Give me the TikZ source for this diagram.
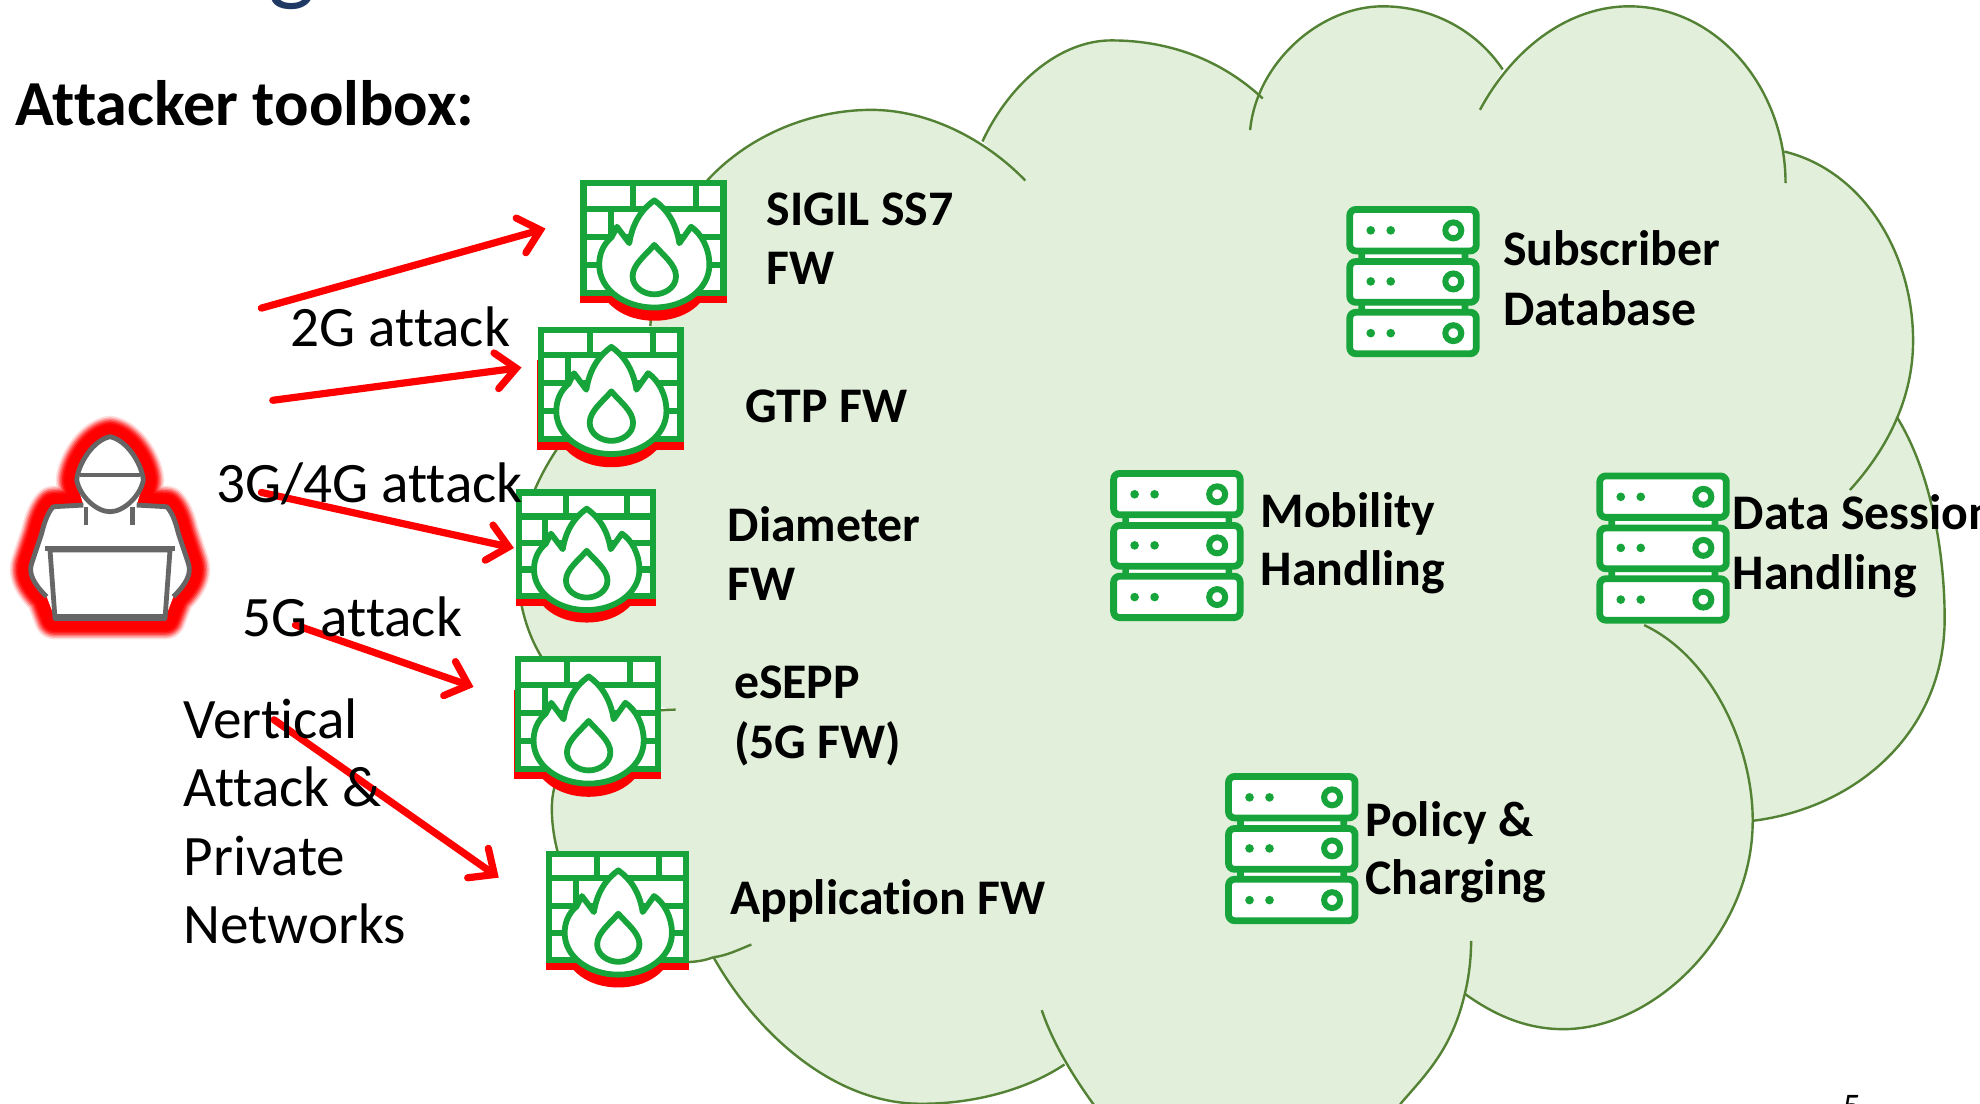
\documentclass[tikz,border=0pt]{standalone}
\usepackage{fontspec}
\setmainfont[Ligatures=CommonOff]{Carlito}
\usetikzlibrary{arrows.meta}
\definecolor{cloudfill}{HTML}{E2EFDA}
\definecolor{cloudedge}{HTML}{548235}
\definecolor{icongreen}{HTML}{17A53B}
\definecolor{hackergray}{HTML}{666666}
\definecolor{titlenavy}{HTML}{1F3864}
\tikzset{
  cloudline/.style={draw=cloudedge,line width=1.2pt},
  attackarrow/.style={draw=red,line width=3.6pt,line cap=round,-{Straight Barb[length=10pt,width=18pt,line cap=round]}},
  boldlabel/.style={font=\fontsize{24.9}{30}\selectfont\bfseries,anchor=base west,inner sep=0pt,align=left,text=black},
  plainlabel/.style={font=\fontsize{28.6}{34}\selectfont,anchor=base west,inner sep=0pt,align=left,text=black},
  wall/.style={draw=icongreen,line width=3.1pt,line join=miter},
  flame/.style={draw=icongreen,line width=2.9pt,line join=round,fill=white},
  rack/.style={draw=icongreen,line width=3.4pt,rounded corners=3pt,fill=white},
  hacker/.style={draw=hackergray,line width=2.4pt,line join=round},
}
% cloud lobes
\newcommand\lobeA{(515,258) .. controls (518,215) and (535,175) .. (560,143) .. controls (595,105) and (645,87) .. (690,87) .. controls (735,87) and (780,110) .. (812,143)}
\newcommand\lobeB{(778,112) .. controls (800,65) and (840,32) .. (880,32) .. controls (930,32) and (970,50) .. (1000,78)}
\newcommand\lobeC{(990,103) .. controls (995,50) and (1045,5) .. (1095,5) .. controls (1135,5) and (1170,25) .. (1190,55)}
\newcommand\lobeD{(1172,87) .. controls (1200,35) and (1245,5) .. (1290,5) .. controls (1360,5) and (1414,70) .. (1414,145)}
\newcommand\lobeE{(1413,120) .. controls (1475,135) and (1515,200) .. (1515,270) .. controls (1515,315) and (1495,355) .. (1465,388)}
\newcommand\lobeF{(1502,330) .. controls (1530,375) and (1540,440) .. (1540,490) .. controls (1540,580) and (1470,640) .. (1388,650)}
\newcommand\lobeG{(1302,495) .. controls (1355,520) and (1388,590) .. (1388,650) .. controls (1388,740) and (1310,815) .. (1238,815) .. controls (1210,815) and (1185,805) .. (1160,787)}
\newcommand\lobeH{(1165,745) .. controls (1165,760) and (1163,775) .. (1160,787) .. controls (1150,830) and (1130,850) .. (1110,873) .. controls (1060,950) and (900,950) .. (870,880) .. controls (855,860) and (835,830) .. (825,800)}
\newcommand\lobeI{(843,843) .. controls (810,865) and (765,875) .. (725,874) .. controls (660,872) and (600,820) .. (565,758)}
\newcommand\lobeJ{(565,758) .. controls (555,762) and (545,762) .. (535,762) .. controls (480,762) and (437,700) .. (437,640) .. controls (437,595) and (480,562) .. (535,562)}
\newcommand\lobeK{(450,545) .. controls (420,520) and (410,480) .. (410,450) .. controls (410,420) and (420,385) .. (445,350) -- (480,300)}
\edef\fullcloud{\unexpanded\expandafter{\lobeA} -- \unexpanded\expandafter{\lobeB} -- \unexpanded\expandafter{\lobeC} -- \unexpanded\expandafter{\lobeD} -- \unexpanded\expandafter{\lobeE} -- \unexpanded\expandafter{\lobeF} -- \unexpanded\expandafter{\lobeG} -- \unexpanded\expandafter{\lobeH} -- \unexpanded\expandafter{\lobeI} -- \unexpanded\expandafter{\lobeJ} -- \unexpanded\expandafter{\lobeK}}
% firewall icon: left, top, width, height
\newcommand\firewallicon[4]{%
\begin{scope}[shift={(#1,#2)},xscale=#3/435*1.0,yscale=#4/425]
  \fill[red] (-3,100) rectangle (437,372);
  \fill[red] (50,300) .. controls (60,375) and (130,425) .. (220,425) .. controls (310,425) and (380,375) .. (390,300) -- cycle;
  \draw[wall,fill=white] (8,8) rectangle (427,340);
  \draw[wall] (8,85) -- (427,85) (8,170) -- (427,170) (8,255) -- (427,255);
  \draw[wall] (155,8) -- (155,85) (345,8) -- (345,85) (90,85) -- (90,170);
  \draw[flame] (220,60) .. controls (185,85) and (155,125) .. (145,190) -- (108,140) -- (92,172)
    .. controls (65,195) and (55,225) .. (55,255) .. controls (55,330) and (130,385) .. (220,385)
    .. controls (310,385) and (385,330) .. (385,255) .. controls (385,205) and (360,160) .. (330,140)
    -- (295,190) .. controls (285,125) and (255,85) .. (220,60) -- cycle;
  \draw[flame] (220,195) .. controls (195,225) and (155,255) .. (155,290) .. controls (155,325) and (190,345) .. (220,345)
    .. controls (250,345) and (285,325) .. (285,290) .. controls (285,255) and (245,225) .. (220,195) -- cycle;
\end{scope}}
% server rack icon: left, top
\newcommand\servericon[2]{%
\begin{scope}[shift={(#1,#2)},xscale=106/402,yscale=120/457]
  \fill[white] (40,140) rectangle (362,320);
  \fill[icongreen] (37,135) rectangle (57,170) (347,135) rectangle (367,170)
                   (37,295) rectangle (57,320) (347,295) rectangle (367,320);
  \foreach \rowtop/\rowbot/\rowmid in {0/147/74,157/302/228,310/457/384}{
    \draw[rack] (11,\rowtop+11) rectangle (391,\rowbot-11);
    \fill[icongreen] (74,\rowmid) circle[radius=13] (134,\rowmid) circle[radius=13];
    \draw[icongreen,line width=3pt] (322,\rowmid) circle[radius=24];
  }
\end{scope}}
\newcommand\hackerglow{(330,110) .. controls (280,120) and (235,190) .. (230,240) .. controls (235,270) and (245,295) .. (250,315) -- (160,320) .. controls (140,340) and (130,380) .. (125,400) -- (95,490) .. controls (85,520) and (100,550) .. (140,590) -- (165,655) -- (495,655) -- (520,590) .. controls (560,550) and (575,520) .. (565,490) -- (535,400) .. controls (530,380) and (520,340) .. (500,320) -- (410,315) .. controls (415,295) and (425,270) .. (430,240) .. controls (425,190) and (380,120) .. (330,110) -- cycle}
\begin{document}
\begin{tikzpicture}[x=0.63138pt,y=-0.63138pt]
\useasboundingbox (0,0) rectangle (1568,873.5);
\clip (0,0) rectangle (1568,873.5);
\fill[white] (0,0) rectangle (1568,873.5);
% cloud
\fill[cloudfill] \fullcloud -- cycle;
\foreach \lobe in {\lobeA,\lobeB,\lobeC,\lobeD,\lobeE,\lobeF,\lobeG,\lobeH,\lobeI,\lobeJ,\lobeK}{\draw[cloudline] \lobe;}
\draw[cloudline] (565,758) .. controls (575,757) and (585,752) .. (595,748);
% firewalls
\firewallicon{460}{143}{115}{111}
\firewallicon{426}{259}{115}{111}
\firewallicon{409}{388}{110}{105}
\firewallicon{408}{520}{115}{111}
\firewallicon{433}{674}{112}{108}
% servers
\servericon{1066}{163}
\servericon{879}{372}
\servericon{1264}{374}
\servericon{970}{612}
% hacker
\begin{scope}[shift={(0,316.8)},scale=0.264]
  \foreach \w/\o in {21/.12,19.5/.2,18/.3,16.5/.4,15/.55,13.5/.75,12/1}{
    \draw[red,line width=\w pt,line join=round,opacity=\o] \hackerglow;
  }
  \fill[white] \hackerglow;
  \draw[hacker] (250,315) -- (160,320) .. controls (140,340) and (130,380) .. (125,400) -- (95,490) .. controls (85,520) and (100,550) .. (140,590);
  \draw[hacker] (410,315) -- (500,320) .. controls (520,340) and (530,380) .. (535,400) -- (565,490) .. controls (575,520) and (560,550) .. (520,590);
  \draw[hacker,fill=white] (330,110) .. controls (280,120) and (235,190) .. (230,240) .. controls (240,290) and (290,335) .. (330,335)
     .. controls (370,335) and (420,290) .. (430,240) .. controls (425,190) and (380,120) .. (330,110) -- cycle;
  \draw[hacker] (240,225) -- (420,225);
  \draw[hacker] (258,320) -- (258,375) (398,320) -- (398,375);
  \draw[hacker] (135,445) -- (525,445);
  \draw[hacker,fill=white] (150,450) -- (165,655) -- (495,655) -- (510,450) -- cycle;
  \draw[hackergray,line width=3.6pt] (165,652) -- (495,652);
\end{scope}
% arrows
\coordinate (a1s) at (207,244); \coordinate (a1e) at (432,181);
\coordinate (a2s) at (216,317); \coordinate (a2e) at (413,291);
\coordinate (a3s) at (207,390); \coordinate (a3e) at (407,434);
\coordinate (a4s) at (234,495); \coordinate (a4e) at (375,544);
\coordinate (a5s) at (217,570); \coordinate (a5e) at (395,695);
\draw[attackarrow] (a1s) -- (a1e);
\draw[attackarrow] (a2s) -- (a2e);
\draw[attackarrow] (a3s) -- (a3e);
\draw[attackarrow] (a4s) -- (a4e);
\draw[attackarrow] (a5s) -- (a5e);
% text
\node[anchor=base west,inner sep=0pt,text=titlenavy,font=\fontsize{50}{60}\selectfont] (titlepart) at (212,-6) {g};
\node[anchor=base west,inner sep=0pt,font=\fontsize{32.1}{38}\selectfont\bfseries] (toolbox) at (12,99) {Attacker toolbox:};
\node[boldlabel] (sigil1) at (607,178.5) {SIGIL SS7};
\node[boldlabel] (sigil2) at (607,225.5) {FW};
\node[boldlabel] (gtp) at (590,334.5) {GTP FW};
\node[boldlabel] (dia1) at (576,428.5) {Diameter};
\node[boldlabel] (dia2) at (576,475.5) {FW};
\node[boldlabel] (esepp1) at (581,553.5) {eSEPP};
\node[boldlabel] (esepp2) at (581,600.5) {(5G FW)};
\node[boldlabel] (appfw) at (578,724) {Application FW};
\node[boldlabel] (sub1) at (1190,210) {Subscriber};
\node[boldlabel] (sub2) at (1190,257.5) {Database};
\node[boldlabel] (mob1) at (998,417.5) {Mobility};
\node[boldlabel] (mob2) at (998,463.5) {Handling};
\node[boldlabel] (data1) at (1372,419.5) {Data Session};
\node[boldlabel] (data2) at (1372,466.5) {Handling};
\node[boldlabel] (pol1) at (1081,662.5) {Policy \&};
\node[boldlabel] (pol2) at (1081,708.5) {Charging};
\node[plainlabel] (g2) at (230,274) {2G attack};
\node[plainlabel] (g34) at (171,398) {3G/4G attack};
\node[plainlabel] (g5) at (192,504) {5G attack};
\node[plainlabel] (v1) at (145,585) {Vertical};
\node[plainlabel] (v2) at (145,639) {Attack \&};
\node[plainlabel] (v3) at (145,693) {Private};
\node[plainlabel] (v4) at (145,747) {Networks};
\node[anchor=base west,inner sep=0pt,font=\fontsize{18}{22}\selectfont] (pagenum) at (1459,886) {5};
\end{tikzpicture}
\end{document}
